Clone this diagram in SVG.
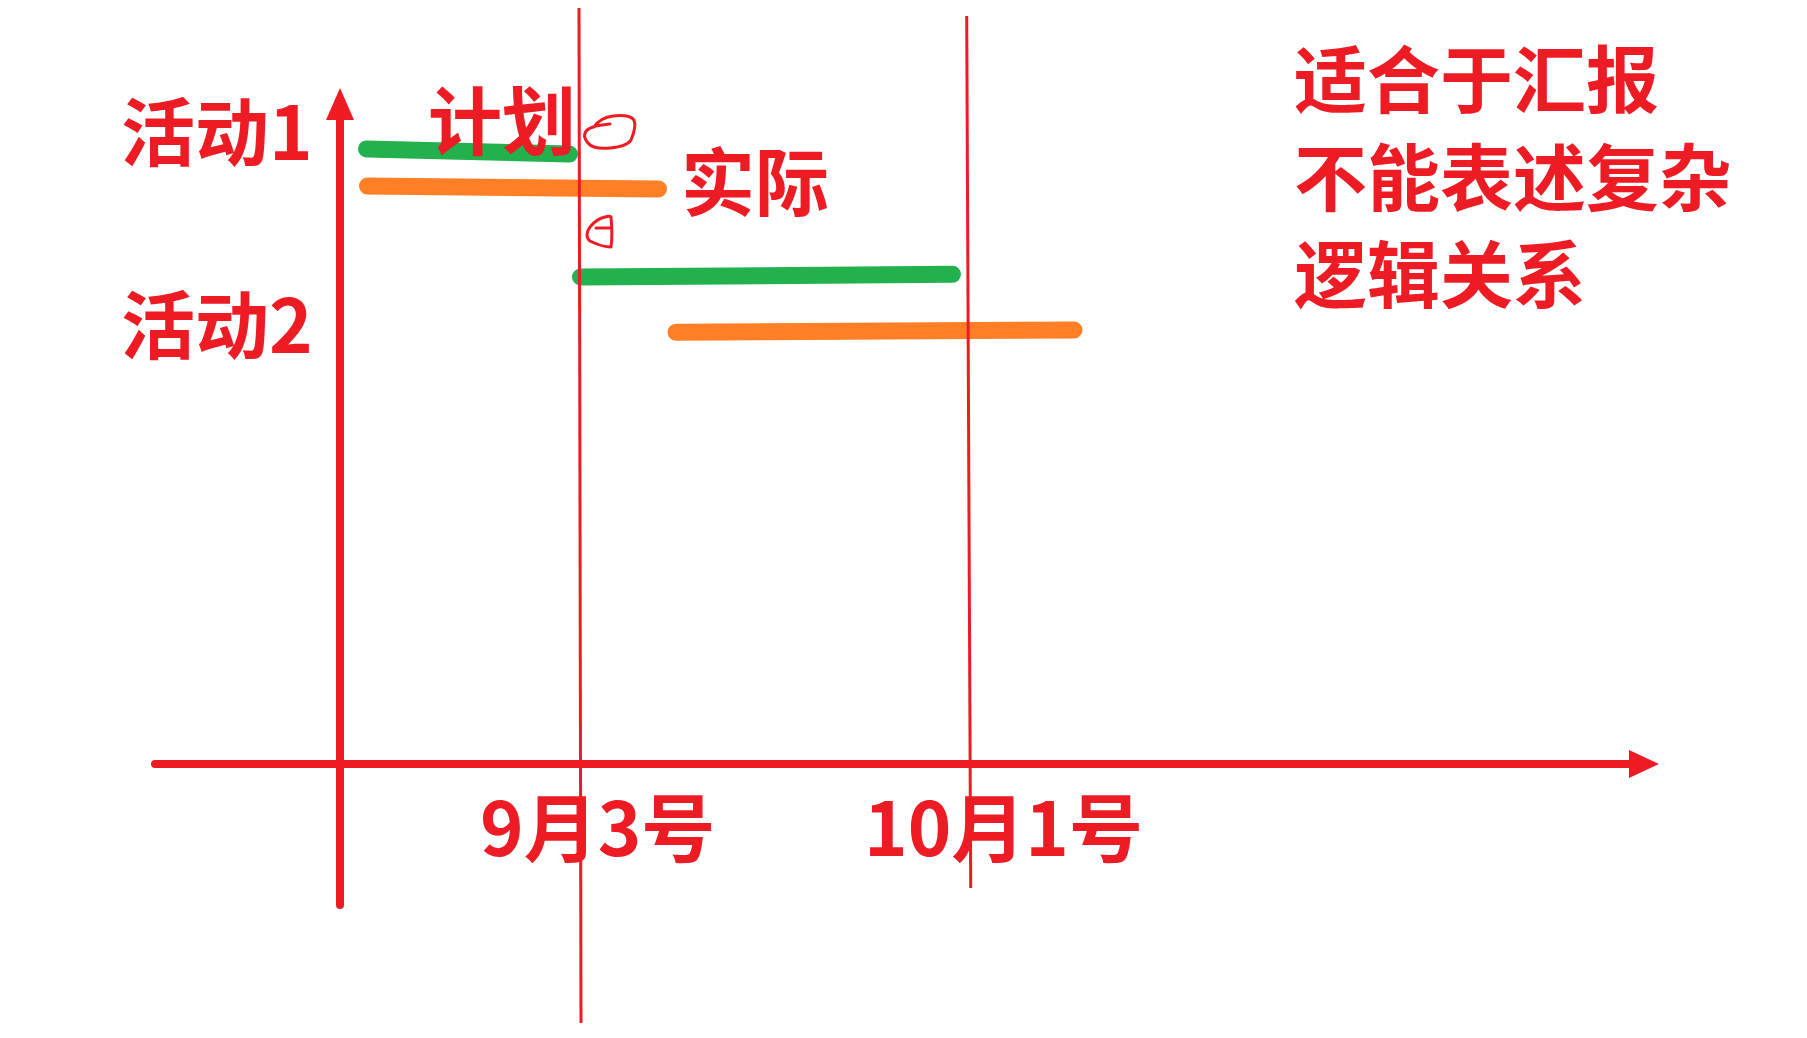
<svg xmlns="http://www.w3.org/2000/svg" width="1807" height="1038" viewBox="0 0 1807 1038">
<style>
.t{font-family:"Noto Sans CJK SC","Noto Sans",sans-serif;font-weight:700;font-size:74px;fill:#ED1C24}
.axis{stroke:#ED1C24;stroke-width:8;stroke-linecap:round;fill:none}
.thin{stroke:#ED1C24;stroke-width:3;fill:none}
.doodle{stroke:#ED1C24;stroke-width:3;fill:none;stroke-linecap:round;stroke-linejoin:round}
.plan{stroke:#22B14C;stroke-width:17;stroke-linecap:round}
.act{stroke:#FF7F27;stroke-width:17;stroke-linecap:round}
</style>
<rect width="1807" height="1038" fill="#ffffff"/>
<g id="bars">
<line class="plan" x1="366.5" y1="149" x2="569.5" y2="154"/>
<line class="act" x1="367.5" y1="186" x2="658.5" y2="189"/>
<line class="plan" x1="580.5" y1="277" x2="952.5" y2="274.3"/>
<line class="act" x1="676" y1="332.3" x2="1074" y2="330"/>
</g>
<g id="connectors">
<line class="axis" x1="340" y1="905" x2="340" y2="115"/>
<polygon points="340,88 326,120 354,120" fill="#ED1C24"/>
<line class="axis" x1="155" y1="764" x2="1634" y2="764"/>
<polygon points="1659,764 1629,750 1629,778" fill="#ED1C24"/>
<line class="thin" x1="579" y1="8" x2="581" y2="1023"/>
<line class="thin" x1="966.7" y1="16" x2="970.7" y2="888"/>
</g>
<g id="doodles">
<path class="doodle" d="M610,124 C603,125 597,125 593,127 C584,130 582,136 588,143 C592,148 600,149 610,148 C620,147 628,145 631,140 C634,133 636,125 634,120 C631,116 622,115 613,116 C605,117 598,121 594,127"/>
<path class="doodle" d="M596,228 L611,228 M611,217 C612,228 612,240 611,247 C606,247 598,245 590,241 C586,238 586,232 590,227 C594,222 600,218 605,217 C608,216 610,216 611,217"/>
</g>
<g id="label-activity1"><text class="t" x="121" y="160">活动1</text></g>
<g id="label-activity2"><text class="t" x="121" y="353">活动2</text></g>
<g id="label-plan"><text class="t" x="428" y="149">计划</text></g>
<g id="label-actual"><text class="t" x="681" y="210">实际</text></g>
<g id="label-date1"><text class="t" x="480" y="856">9月3号</text></g>
<g id="label-date2"><text class="t" x="864" y="856">10月1号</text></g>
<g id="note">
<text class="t" x="1294" y="107" style="font-size:73px">适合于汇报</text>
<text class="t" x="1294" y="205" style="font-size:73px">不能表述复杂</text>
<text class="t" x="1294" y="302" style="font-size:73px">逻辑关系</text>
</g>
</svg>
